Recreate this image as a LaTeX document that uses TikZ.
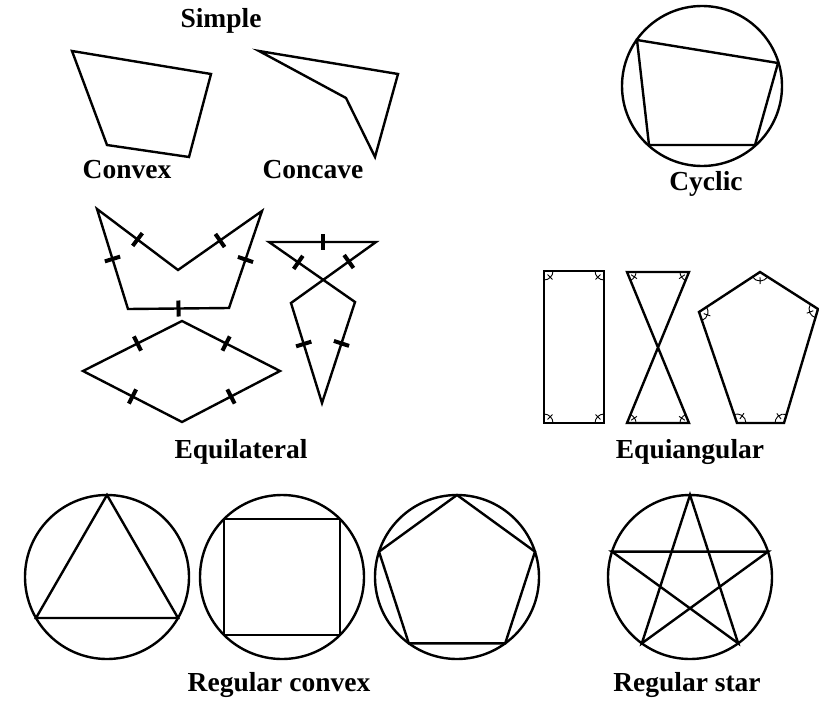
\documentclass[tikz,border=0pt]{standalone}
\usepackage{fontspec}
\setmainfont{Liberation Serif}
\usetikzlibrary{calc}
\newcommand\eqtk[3]{\draw[eqtick] ($(#1)!#3!(#2)!8pt!90:(#2)$) -- ($(#1)!#3!(#2)!8pt!-90:(#2)$);}
\newcommand\amk[3]{\draw[angmark] let \p1=($(#1)-(#2)$), \p2=($(#3)-(#2)$), \n1={atan2(\y1,\x1)}, \n2={atan2(\y2,\x2)}, \n3={mod(\n2-\n1+540,360)-180}, \n4={\n1+\n3/2} in ($(#2)+(\n1:9pt)$) arc[start angle=\n1, delta angle=\n3, radius=9pt] ($(#2)+(\n4:5pt)$) -- ($(#2)+(\n4:12pt)$);}
\begin{document}
\begin{tikzpicture}[x=1pt,y=-1pt,
  poly/.style={line width=2.4pt, line join=miter},
  lbl/.style={font=\fontsize{27.5}{30}\selectfont\bfseries, anchor=base, inner sep=0pt},
  eqtick/.style={line width=4pt},
  angmark/.style={line width=0.9pt}]
\useasboundingbox (0,0) rectangle (819,701);
% labels
\node[lbl] (tsimple) at (221,28) {Simple};
\node[lbl] (tconvex) at (127,178) {Convex};
\node[lbl] (tconcave) at (313,178) {Concave};
\node[lbl] (tcyclic) at (706,190) {Cyclic};
\node[lbl] (tequil) at (241,458) {Equilateral};
\node[lbl] (tequiang) at (690,458) {Equiangular};
\node[lbl] (tregconv) at (279,691) {Regular convex};
\node[lbl] (tregstar) at (687,691) {Regular star};
% simple
\coordinate (a1) at (72,51); \coordinate (a2) at (211,74); \coordinate (a3) at (189,157); \coordinate (a4) at (107,145);
\draw[poly] (a1) -- (a2) -- (a3) -- (a4) -- cycle;
\coordinate (c1) at (259,51); \coordinate (c2) at (398,74); \coordinate (c3) at (375,157); \coordinate (c4) at (346,98);
\draw[poly] (c1) -- (c2) -- (c3) -- (c4) -- cycle;
% cyclic
\coordinate (cyc) at (702,86);
\draw[poly] (cyc) circle[radius=80];
\coordinate (y1) at (637,40); \coordinate (y2) at (778,63); \coordinate (y3) at (755,145); \coordinate (y4) at (649,145);
\draw[poly] (y1) -- (y2) -- (y3) -- (y4) -- cycle;
% equilateral
\coordinate (e1) at (97,209); \coordinate (e2) at (178,270); \coordinate (e3) at (262,211); \coordinate (e4) at (229,308); \coordinate (e5) at (128,309);
\draw[poly] (e1) -- (e2) -- (e3) -- (e4) -- (e5) -- cycle;
\eqtk{e1}{e2}{0.5} \eqtk{e2}{e3}{0.5} \eqtk{e3}{e4}{0.5} \eqtk{e4}{e5}{0.5} \eqtk{e5}{e1}{0.5}
\coordinate (k1) at (269,242); \coordinate (k2) at (376,242); \coordinate (k3) at (355,302); \coordinate (k4) at (322,403); \coordinate (k5) at (291,303);
\draw[poly] (k1) -- (k3) -- (k4) -- (k5) -- (k2) -- cycle;
\eqtk{k1}{k2}{0.5} \eqtk{k1}{k3}{0.34} \eqtk{k2}{k5}{0.32} \eqtk{k5}{k4}{0.41} \eqtk{k3}{k4}{0.41}
\coordinate (r1) at (83,371); \coordinate (r2) at (182,321); \coordinate (r3) at (280,371); \coordinate (r4) at (182,422);
\draw[poly] (r1) -- (r2) -- (r3) -- (r4) -- cycle;
\eqtk{r1}{r2}{0.55} \eqtk{r2}{r3}{0.45} \eqtk{r3}{r4}{0.5} \eqtk{r4}{r1}{0.5}
% equiangular
\coordinate (q1) at (544,271); \coordinate (q2) at (604,271); \coordinate (q3) at (604,423); \coordinate (q4) at (544,423);
\draw[poly] (q1) -- (q2) -- (q3) -- (q4) -- cycle;
\amk{q2}{q1}{q4} \amk{q1}{q2}{q3} \amk{q2}{q3}{q4} \amk{q3}{q4}{q1}
\coordinate (b1) at (627,272); \coordinate (b2) at (689,272); \coordinate (b3) at (627,423); \coordinate (b4) at (689,423);
\draw[poly] (b1) -- (b2) -- (b3) -- (b4) -- cycle;
\amk{b2}{b1}{b4} \amk{b1}{b2}{b3} \amk{b2}{b3}{b4} \amk{b3}{b4}{b1}
\coordinate (p1) at (760,272); \coordinate (p2) at (818,309); \coordinate (p3) at (784,423); \coordinate (p4) at (737,423); \coordinate (p5) at (699,312);
\draw[poly] (p1) -- (p2) -- (p3) -- (p4) -- (p5) -- cycle;
\amk{p5}{p1}{p2} \amk{p1}{p2}{p3} \amk{p2}{p3}{p4} \amk{p3}{p4}{p5} \amk{p4}{p5}{p1}
% regular convex
\coordinate (o1) at (107,577); \coordinate (o2) at (282,577); \coordinate (o3) at (457,577); \coordinate (o4) at (690,577);
\foreach \c in {o1,o2,o3,o4} \draw[poly] (\c) circle[radius=82];
\foreach \i in {0,1,2} \coordinate (t\i) at ($(o1)+(90+120*\i:82pt)$);
\draw[poly] (t0) -- (t1) -- (t2) -- cycle;
\foreach \i in {0,1,2,3} \coordinate (s\i) at ($(o2)+(45+90*\i:82pt)$);
\draw[poly] (s0) -- (s1) -- (s2) -- (s3) -- cycle;
\foreach \i in {0,...,4} \coordinate (v\i) at ($(o3)+(90+72*\i:82pt)$);
\draw[poly] (v0) -- (v1) -- (v2) -- (v3) -- (v4) -- cycle;
\foreach \i in {0,...,4} \coordinate (w\i) at ($(o4)+(90+72*\i:82pt)$);
\draw[poly] (w0) -- (w2) -- (w4) -- (w1) -- (w3) -- cycle;
\end{tikzpicture}
\end{document}
